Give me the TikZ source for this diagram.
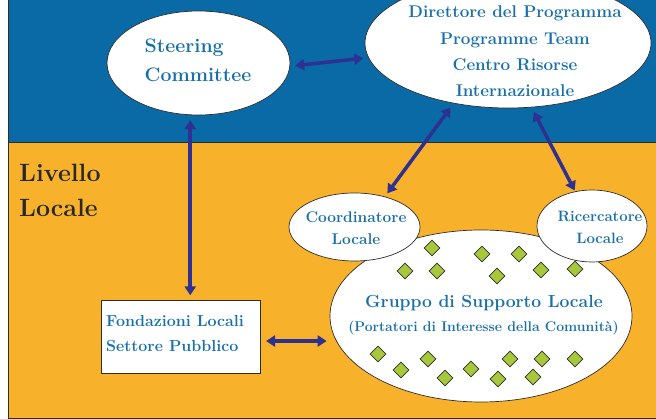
\documentclass[tikz,border=0pt]{standalone}
\usepackage{fontspec}
\usetikzlibrary{shapes.geometric,arrows.meta}
\definecolor{bandblue}{RGB}{10,106,166}
\definecolor{bandorange}{RGB}{247,177,42}
\definecolor{txtblue}{RGB}{24,112,170}
\definecolor{arrblue}{RGB}{46,49,146}
\definecolor{gemgreen}{RGB}{166,200,58}
\definecolor{rim}{RGB}{45,45,45}
\tikzset{
  band/.style  = { draw=rim, line width=0.8pt },
  oval/.style  = { draw=rim, fill=white, ellipse, line width=0.7pt, inner sep=0pt },
  tbox/.style  = { draw=rim, fill=white, rectangle, line width=0.7pt, inner sep=0pt },
  lbl/.style 2 args = { text=txtblue, inner sep=0pt, font={\fontsize{#1}{#2}\selectfont\bfseries} },
  gem/.style   = { draw=rim, fill=gemgreen, diamond, line width=0.6pt, inner sep=0pt,
    minimum width=16pt, minimum height=16pt },
  link/.style  = { draw=arrblue, line width=3.5pt, >={Triangle[length=9pt,width=11pt]}, <->,
    shorten <=5pt, shorten >=5pt }
}

\begin{document}
\begin{tikzpicture}[x=1pt,y=-1pt]
      \useasboundingbox (0,0) rectangle (656,419);
      % levels
      \fill[bandblue] (8,0) rectangle (656,142);
      \draw[band] (8,0) -- (8,142) -- (656,142);
      \filldraw[band,fill=bandorange] (8,142) rectangle (656,418);
      \node[anchor=west, inner sep=0pt, text={rgb,255:red,40;green,40;blue,40}, align=left,
        font={\fontsize{25}{35.3}\selectfont\bfseries}] (lvl) at (19,190.7) {Livello\\Locale};
      % ovals
      \node[oval, minimum width=302pt, minimum height=172pt] (grp) at (481,316) {};
      \node[oval, minimum width=131pt, minimum height=68pt] (coord) at (354.5,227) {};
      \node[oval, minimum width=110pt, minimum height=72pt] (ric) at (592,226) {};
      \node[oval, minimum width=183pt, minimum height=104pt] (steer) at (198.5,63) {};
      \node[oval, minimum width=286pt, minimum height=130pt] (dir) at (508,43) {};
      \node[tbox, minimum width=159pt, minimum height=72.3pt] (fond) at (181.2,336.85) {};
      % stakeholders
      \foreach \px/\py [count=\k] in {432/248,482/254,519/254,405/271,437/271,497/276,541/270,575/269,
        378/354,401/370,428/359,445/378,471/369,498/379,510/359,533/377,542/359,575/359}
        \node[gem] (gem\k) at (\px,\py) {};
      % labels
      \node[lbl={19.5}{29}, align=left, anchor=west] (steertxt) at (144.5,60.75) {Steering\\Committee};
      \node[lbl={17}{26.3}, align=center] (dirtxt) at (515,51.6)
        {Direttore del Programma\\Programme Team\\Centro Risorse\\Internazionale};
      \node[lbl={15.5}{22}, align=center] (coordtxt) at (356,228.6) {Coordinatore\\Locale};
      \node[lbl={15}{22}, align=center] (rictxt) at (600,227.6) {Ricercatore\\Locale};
      \node[lbl={17.5}{21}, anchor=base] (grptxt) at (484,308) {Gruppo di Supporto Locale};
      \node[lbl={14}{17}, anchor=base] (grpsub) at (483.5,332) {(Portatori di Interesse della Comunità)};
      \node[lbl={16}{25}, align=left, anchor=west] (fondtxt) at (106,333.65) {Fondazioni Locali\\Settore Pubblico};
      % links
      \draw[link] (steer.-2.5) -- (dir.186.2);
      \draw[link] (steer.261) -- (steer.261 |- fond.north);
      \draw[link, shorten >=3pt] (fond.-3.5) -- (grp.west |- fond.-3.5);
      \draw[link, shorten <=4pt] (coord.45) -- (dir.228.5);
      \draw[link, shorten <=1pt] (ric.116.6) -- (dir.290);
\end{tikzpicture}
\end{document}
